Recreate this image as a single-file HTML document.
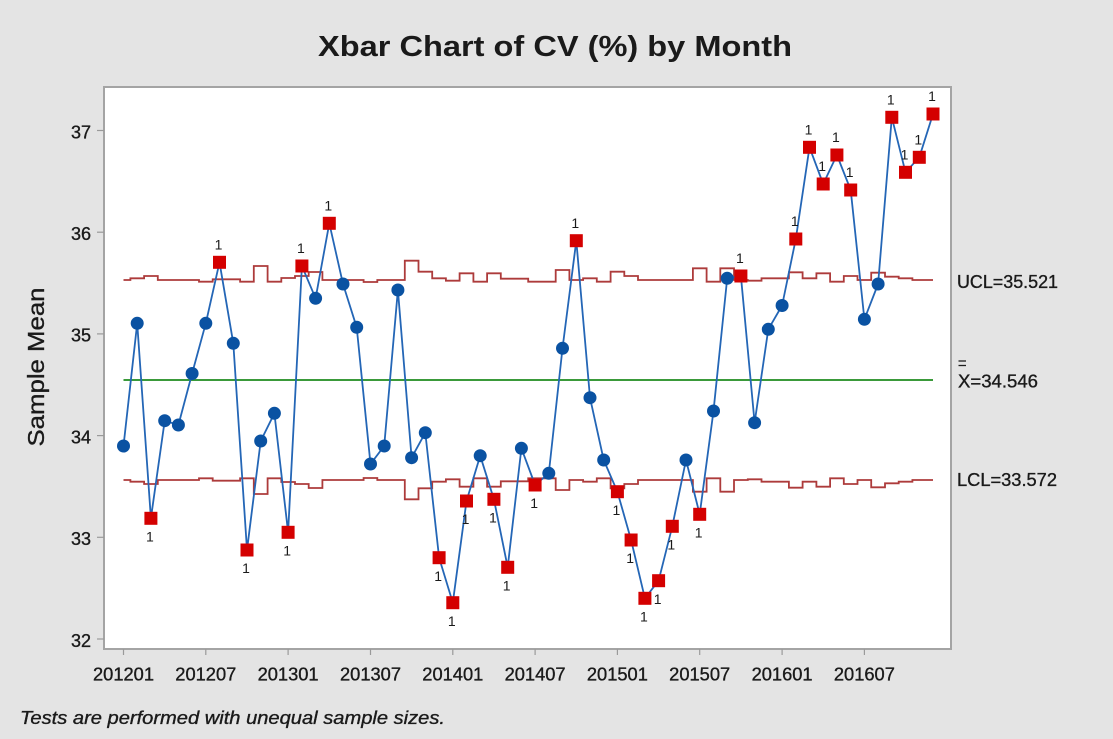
<!DOCTYPE html>
<html><head><meta charset="utf-8"><style>
html,body{margin:0;padding:0;background:#e4e4e4;}
svg{display:block;}
text{font-family:"Liberation Sans",sans-serif;fill:#1a1a1a;}
.hv{stroke:#1a1a1a;stroke-width:0.35;}
</style></head><body>
<svg width="1113" height="739" viewBox="0 0 1113 739" xmlns="http://www.w3.org/2000/svg">
<rect x="0" y="0" width="1113" height="739" fill="#e4e4e4"/>
<text x="555" y="56" text-anchor="middle" font-size="29" font-weight="bold" textLength="474" lengthAdjust="spacingAndGlyphs">Xbar Chart of CV (%) by Month</text>
<rect x="104" y="87" width="847" height="562" fill="#ffffff" stroke="#a4a4a4" stroke-width="2"/>
<!-- y ticks -->
<g stroke="#9a9a9a" stroke-width="1.2">
<line x1="97" y1="130.5" x2="104" y2="130.5"/>
<line x1="97" y1="232.2" x2="104" y2="232.2"/>
<line x1="97" y1="333.9" x2="104" y2="333.9"/>
<line x1="97" y1="435.6" x2="104" y2="435.6"/>
<line x1="97" y1="537.3" x2="104" y2="537.3"/>
<line x1="97" y1="639" x2="104" y2="639"/>
</g>
<g font-size="18" text-anchor="end" class="hv">
<text x="91" y="138.3">37</text>
<text x="91" y="240">36</text>
<text x="91" y="341.7">35</text>
<text x="91" y="443.4">34</text>
<text x="91" y="545.1">33</text>
<text x="91" y="646.8">32</text>
</g>
<!-- x ticks -->
<g stroke="#9a9a9a" stroke-width="1.2">
<line x1="123.5" y1="649" x2="123.5" y2="655"/>
<line x1="205.8" y1="649" x2="205.8" y2="655"/>
<line x1="288.1" y1="649" x2="288.1" y2="655"/>
<line x1="370.5" y1="649" x2="370.5" y2="655"/>
<line x1="452.8" y1="649" x2="452.8" y2="655"/>
<line x1="535.1" y1="649" x2="535.1" y2="655"/>
<line x1="617.4" y1="649" x2="617.4" y2="655"/>
<line x1="699.7" y1="649" x2="699.7" y2="655"/>
<line x1="782.1" y1="649" x2="782.1" y2="655"/>
<line x1="864.4" y1="649" x2="864.4" y2="655"/>
</g>
<g font-size="18" text-anchor="middle" class="hv">
<text x="123.5" y="680.5" textLength="61" lengthAdjust="spacingAndGlyphs">201201</text>
<text x="205.8" y="680.5" textLength="61" lengthAdjust="spacingAndGlyphs">201207</text>
<text x="288.1" y="680.5" textLength="61" lengthAdjust="spacingAndGlyphs">201301</text>
<text x="370.5" y="680.5" textLength="61" lengthAdjust="spacingAndGlyphs">201307</text>
<text x="452.8" y="680.5" textLength="61" lengthAdjust="spacingAndGlyphs">201401</text>
<text x="535.1" y="680.5" textLength="61" lengthAdjust="spacingAndGlyphs">201407</text>
<text x="617.4" y="680.5" textLength="61" lengthAdjust="spacingAndGlyphs">201501</text>
<text x="699.7" y="680.5" textLength="61" lengthAdjust="spacingAndGlyphs">201507</text>
<text x="782.1" y="680.5" textLength="61" lengthAdjust="spacingAndGlyphs">201601</text>
<text x="864.4" y="680.5" textLength="61" lengthAdjust="spacingAndGlyphs">201607</text>
</g>
<!-- y label -->
<text transform="translate(44,367) rotate(-90)" x="0" y="0" text-anchor="middle" font-size="23" textLength="159" lengthAdjust="spacingAndGlyphs" class="hv">Sample Mean</text>
<!-- footnote -->
<text x="20" y="724" font-size="18" font-style="italic" textLength="425" lengthAdjust="spacingAndGlyphs" class="hv">Tests are performed with unequal sample sizes.</text>
<!-- center line -->
<line x1="123.5" y1="380" x2="933" y2="380" stroke="#3a9a3a" stroke-width="2"/>
<!-- UCL -->
<path fill="none" stroke="#ad3b3b" stroke-width="1.8" d="M123.5 280 H130.4 V278.3 H144.1 V276 H157.8 V280 H171.5 V280 H185.2 V280 H199 V281.7 H212.7 V279.3 H226.4 V279.3 H240.1 V281.7 H253.8 V266 H267.6 V281.7 H281.3 V278 H295 V276 H308.7 V272 H322.4 V280 H336.2 V280 H349.9 V280 H363.6 V282 H377.3 V280 H391 V280 H404.8 V260.7 H418.5 V271.7 H432.2 V278.3 H445.9 V280.7 H459.6 V273.3 H473.4 V281.7 H487.1 V273.3 H500.8 V278.7 H514.5 V278.7 H528.2 V281.7 H542 V281.7 H555.7 V270 H569.4 V280 H583.1 V278.3 H596.8 V281.7 H610.6 V271.7 H624.3 V276 H638 V280 H651.7 V280 H665.4 V280 H679.2 V280 H692.9 V268.3 H706.6 V281.7 H720.3 V268.3 H734 V280 H747.8 V280.7 H761.5 V278.3 H775.2 V278.3 H788.9 V272.3 H802.6 V278.3 H816.4 V273.3 H830.1 V281.7 H843.8 V276 H857.5 V280 H871.2 V272.7 H885 V276.7 H898.7 V278.3 H912.4 V280 H926.1 V280 H933"/>
<!-- LCL -->
<path fill="none" stroke="#ad3b3b" stroke-width="1.8" d="M123.5 480 H130.4 V481.7 H144.1 V484 H157.8 V480 H171.5 V480 H185.2 V480 H199 V478.3 H212.7 V480.7 H226.4 V480.7 H240.1 V478.3 H253.8 V494 H267.6 V478.3 H281.3 V482 H295 V484 H308.7 V488 H322.4 V480 H336.2 V480 H349.9 V480 H363.6 V478 H377.3 V480 H391 V480 H404.8 V499.3 H418.5 V488.3 H432.2 V481.7 H445.9 V479.3 H459.6 V486.7 H473.4 V478.3 H487.1 V486.7 H500.8 V481.3 H514.5 V481.3 H528.2 V478.3 H542 V478.3 H555.7 V490 H569.4 V480 H583.1 V481.7 H596.8 V478.3 H610.6 V488.3 H624.3 V484 H638 V480 H651.7 V480 H665.4 V480 H679.2 V480 H692.9 V491.7 H706.6 V478.3 H720.3 V491.7 H734 V480 H747.8 V479.3 H761.5 V481.7 H775.2 V481.7 H788.9 V487.7 H802.6 V481.7 H816.4 V486.7 H830.1 V478.3 H843.8 V484 H857.5 V480 H871.2 V487.3 H885 V483.3 H898.7 V481.7 H912.4 V480 H926.1 V480 H933"/>
<!-- right labels -->
<g font-size="18" class="hv">
<text x="957" y="288" textLength="101" lengthAdjust="spacingAndGlyphs">UCL=35.521</text>
<text x="958" y="387.5" textLength="80" lengthAdjust="spacingAndGlyphs">X=34.546</text>
<text x="957" y="486" textLength="100" lengthAdjust="spacingAndGlyphs">LCL=33.572</text>
</g>
<g stroke="#1e1e1e" stroke-width="1.3">
<line x1="958.5" y1="361" x2="966" y2="361"/>
<line x1="958.5" y1="365.5" x2="966" y2="365.5"/>
</g>
<!-- data line -->
<polyline fill="none" stroke="#2466b6" stroke-width="1.8" stroke-linejoin="round" points="123.5,446 137.2,323.3 150.9,518.3 164.7,420.7 178.4,425 192.1,373.5 205.8,323.3 219.5,262.3 233.3,343.3 247,550 260.7,441 274.4,413.3 288.1,532.3 301.9,266 315.6,298.3 329.3,223.3 343,284 356.7,327.3 370.5,464 384.2,446 397.9,290 411.6,457.7 425.3,432.7 439.1,557.7 452.8,602.7 466.5,501 480.2,455.7 493.9,499.3 507.7,567.3 521.4,448.3 535.1,485 548.8,473.3 562.5,348.3 576.3,240.7 590,397.7 603.7,460 617.4,491.7 631.1,540 644.9,598.3 658.6,580.7 672.3,526.3 686,460 699.7,514.3 713.5,411 727.2,278.3 740.9,276 754.6,422.7 768.3,329.3 782.1,305.5 795.8,239 809.5,147.3 823.2,184 836.9,155 850.7,190 864.4,319.3 878.1,284 891.8,117.3 905.5,172.3 919.3,157.3 933,114"/>
<!-- blue markers -->
<g fill="#0a52a2">
<circle cx="123.5" cy="446" r="6.5"/>
<circle cx="137.2" cy="323.3" r="6.5"/>
<circle cx="164.7" cy="420.7" r="6.5"/>
<circle cx="178.4" cy="425" r="6.5"/>
<circle cx="192.1" cy="373.5" r="6.5"/>
<circle cx="205.8" cy="323.3" r="6.5"/>
<circle cx="233.3" cy="343.3" r="6.5"/>
<circle cx="260.7" cy="441" r="6.5"/>
<circle cx="274.4" cy="413.3" r="6.5"/>
<circle cx="315.6" cy="298.3" r="6.5"/>
<circle cx="343" cy="284" r="6.5"/>
<circle cx="356.7" cy="327.3" r="6.5"/>
<circle cx="370.5" cy="464" r="6.5"/>
<circle cx="384.2" cy="446" r="6.5"/>
<circle cx="397.9" cy="290" r="6.5"/>
<circle cx="411.6" cy="457.7" r="6.5"/>
<circle cx="425.3" cy="432.7" r="6.5"/>
<circle cx="480.2" cy="455.7" r="6.5"/>
<circle cx="521.4" cy="448.3" r="6.5"/>
<circle cx="548.8" cy="473.3" r="6.5"/>
<circle cx="562.5" cy="348.3" r="6.5"/>
<circle cx="590" cy="397.7" r="6.5"/>
<circle cx="603.7" cy="460" r="6.5"/>
<circle cx="686" cy="460" r="6.5"/>
<circle cx="713.5" cy="411" r="6.5"/>
<circle cx="727.2" cy="278.3" r="6.5"/>
<circle cx="754.6" cy="422.7" r="6.5"/>
<circle cx="768.3" cy="329.3" r="6.5"/>
<circle cx="782.1" cy="305.5" r="6.5"/>
<circle cx="864.4" cy="319.3" r="6.5"/>
<circle cx="878.1" cy="284" r="6.5"/>
</g>
<!-- red markers -->
<g fill="#d40000">
<rect x="144.4" y="511.8" width="13" height="13"/>
<rect x="213" y="255.8" width="13" height="13"/>
<rect x="240.5" y="543.5" width="13" height="13"/>
<rect x="281.6" y="525.8" width="13" height="13"/>
<rect x="295.4" y="259.5" width="13" height="13"/>
<rect x="322.8" y="216.8" width="13" height="13"/>
<rect x="432.6" y="551.2" width="13" height="13"/>
<rect x="446.3" y="596.2" width="13" height="13"/>
<rect x="460" y="494.5" width="13" height="13"/>
<rect x="487.4" y="492.8" width="13" height="13"/>
<rect x="501.2" y="560.8" width="13" height="13"/>
<rect x="528.6" y="478.5" width="13" height="13"/>
<rect x="569.8" y="234.2" width="13" height="13"/>
<rect x="610.9" y="485.2" width="13" height="13"/>
<rect x="624.6" y="533.5" width="13" height="13"/>
<rect x="638.4" y="591.8" width="13" height="13"/>
<rect x="652.1" y="574.2" width="13" height="13"/>
<rect x="665.8" y="519.8" width="13" height="13"/>
<rect x="693.2" y="507.8" width="13" height="13"/>
<rect x="734.4" y="269.5" width="13" height="13"/>
<rect x="789.3" y="232.5" width="13" height="13"/>
<rect x="803" y="140.8" width="13" height="13"/>
<rect x="816.7" y="177.5" width="13" height="13"/>
<rect x="830.4" y="148.5" width="13" height="13"/>
<rect x="844.2" y="183.5" width="13" height="13"/>
<rect x="885.3" y="110.8" width="13" height="13"/>
<rect x="899" y="165.8" width="13" height="13"/>
<rect x="912.8" y="150.8" width="13" height="13"/>
<rect x="926.5" y="107.5" width="13" height="13"/>
</g>
<!-- test labels -->
<g font-size="14" text-anchor="middle" style="fill:#a97b3e">
<text x="149.9" y="541.5">1</text>
<text x="218.5" y="249.5">1</text>
<text x="246" y="573">1</text>
<text x="287.1" y="555.5">1</text>
<text x="300.9" y="253">1</text>
<text x="328.3" y="210.5">1</text>
<text x="438.1" y="581">1</text>
<text x="451.8" y="626">1</text>
<text x="465.5" y="524">1</text>
<text x="492.9" y="522.5">1</text>
<text x="506.7" y="590.5">1</text>
<text x="534.1" y="508">1</text>
<text x="575.3" y="228">1</text>
<text x="616.4" y="515">1</text>
<text x="630.1" y="563">1</text>
<text x="643.9" y="621.5">1</text>
<text x="657.6" y="604">1</text>
<text x="671.3" y="549.5">1</text>
<text x="698.7" y="537.5">1</text>
<text x="739.9" y="263">1</text>
<text x="794.8" y="226">1</text>
<text x="808.5" y="134.5">1</text>
<text x="822.2" y="171">1</text>
<text x="835.9" y="142">1</text>
<text x="849.7" y="177">1</text>
<text x="890.8" y="104.5">1</text>
<text x="904.5" y="159.5">1</text>
<text x="918.3" y="144.5">1</text>
<text x="932" y="101">1</text>
</g>
</svg>
</body></html>
